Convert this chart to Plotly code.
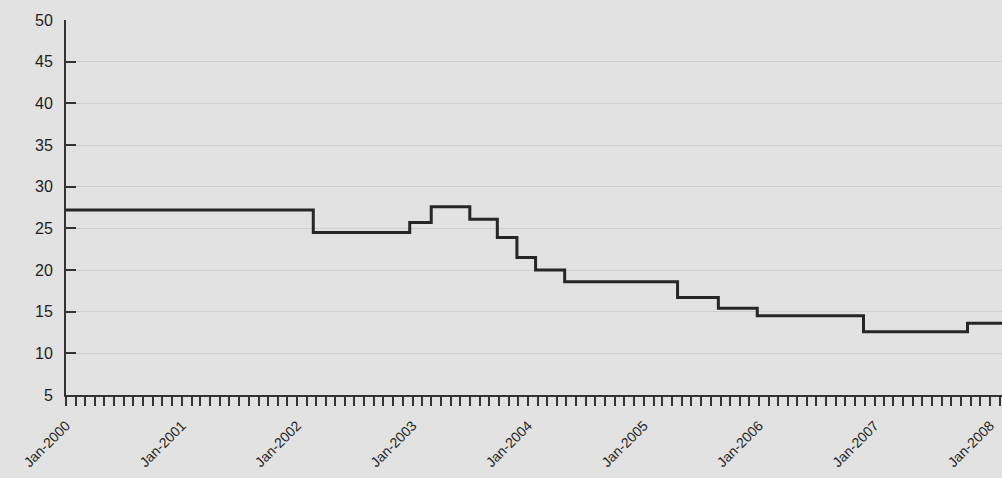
import plotly.graph_objects as go

# Dates at which the stepped series changes level, and the level from that date on
change_dates = [
    "2000-01-01", "2002-02-21", "2002-12-23", "2003-03-01", "2003-07-01",
    "2003-09-26", "2003-11-27", "2004-01-25", "2004-04-26", "2005-04-18",
    "2005-08-25", "2005-12-26", "2006-11-27", "2007-10-22", "2008-02-08",
]
levels = [
    27.2, 24.5, 25.7, 27.6, 26.1,
    23.9, 21.5, 20.0, 18.6, 16.7,
    15.4, 14.5, 12.6, 13.6, 13.6,
]

y_ticks = [5, 10, 15, 20, 25, 30, 35, 40, 45, 50]

fig = go.Figure()
fig.add_trace(go.Scatter(
    x=change_dates, y=levels, mode="lines",
    line=dict(shape="hv", color="#262626", width=3),
    showlegend=False, hoverinfo="skip",
))

font_family = "Liberation Sans, Arial, sans-serif"
fig.update_layout(
    width=1002, height=478,
    margin=dict(l=66, r=0, t=20, b=83),
    paper_bgcolor="#e2e2e2", plot_bgcolor="#e2e2e2",
    font=dict(family=font_family, color="#1e1e1e"),
    xaxis=dict(
        type="date",
        range=["2000-01-01", "2008-02-08"],
        dtick="M12", tick0="2000-01-01", tickformat="%b-%Y",
        tickangle=-45, tickfont=dict(size=14, color="#1e1e1e"),
        ticks="outside", ticklen=9, tickwidth=2, tickcolor="#333333",
        ticklabelstandoff=6,
        minor=dict(dtick="M1", ticks="outside", ticklen=9, tickwidth=2, tickcolor="#333333"),
        showgrid=False, zeroline=False,
        showline=True, linecolor="#333333", linewidth=2,
    ),
    yaxis=dict(
        range=[5, 50], tickvals=y_ticks,
        tickfont=dict(size=16, color="#1e1e1e"),
        ticks="inside", ticklen=10, tickwidth=2, tickcolor="#333333",
        ticklabelstandoff=8,
        showgrid=True, gridcolor="#cdcdcd", gridwidth=1,
        zeroline=False,
        showline=True, linecolor="#333333", linewidth=2,
    ),
)

fig.write_html(
    "out.html",
    config={"displayModeBar": False},
    post_script="document.body.style.margin='0';document.body.style.overflow='hidden';",
)
